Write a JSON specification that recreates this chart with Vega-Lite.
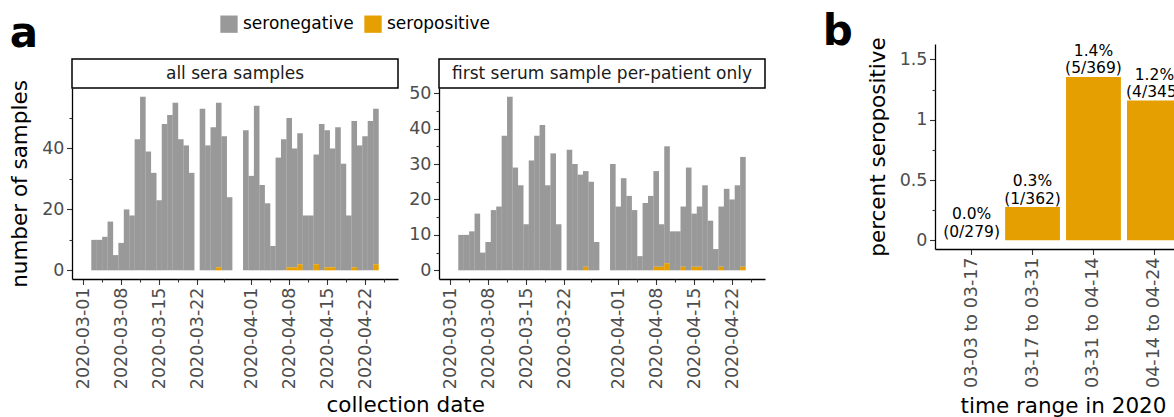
{
  "$schema": "https://vega.github.io/schema/vega-lite/v6.json",
  "padding": {"left": 9, "top": 10, "right": 0, "bottom": 0},
  "config": {
    "font": "DejaVu Sans",
    "view": {"stroke": null},
    "axis": {
      "domainColor": "black", "domainWidth": 1.3,
      "tickColor": "#333333", "tickWidth": 1.1, "tickSize": 5.5,
      "labelColor": "#4d4d4d", "labelFontSize": 17.5, "labelFont": "DejaVu Sans", "labelPadding": 2.5,
      "titleColor": "black", "titleFontSize": 21.5, "titleFontWeight": "normal", "titleFont": "DejaVu Sans",
      "grid": false, "labelFlush": false, "labelOverlap": false
    },
    "axisY": {"titlePadding": 10},
    "axisX": {"titlePadding": 8},
    "legend": {
      "orient": "none", "legendX": 148, "legendY": -29, "direction": "horizontal",
      "title": null, "symbolType": "square", "symbolSize": 300, "symbolStrokeWidth": 0,
      "labelFontSize": 17, "labelColor": "black", "columnPadding": 10, "labelOffset": 5
    }
  },
  "datasets": {
    "daily": [
      {"panel":"all","date":"2020-03-03","seronegative":10,"seropositive":0},
      {"panel":"all","date":"2020-03-04","seronegative":10,"seropositive":0},
      {"panel":"all","date":"2020-03-05","seronegative":11,"seropositive":0},
      {"panel":"all","date":"2020-03-06","seronegative":16,"seropositive":0},
      {"panel":"all","date":"2020-03-07","seronegative":5,"seropositive":0},
      {"panel":"all","date":"2020-03-08","seronegative":9,"seropositive":0},
      {"panel":"all","date":"2020-03-09","seronegative":20,"seropositive":0},
      {"panel":"all","date":"2020-03-10","seronegative":18,"seropositive":0},
      {"panel":"all","date":"2020-03-11","seronegative":43,"seropositive":0},
      {"panel":"all","date":"2020-03-12","seronegative":57,"seropositive":0},
      {"panel":"all","date":"2020-03-13","seronegative":39,"seropositive":0},
      {"panel":"all","date":"2020-03-14","seronegative":32,"seropositive":0},
      {"panel":"all","date":"2020-03-15","seronegative":23,"seropositive":0},
      {"panel":"all","date":"2020-03-16","seronegative":48,"seropositive":0},
      {"panel":"all","date":"2020-03-17","seronegative":51,"seropositive":0},
      {"panel":"all","date":"2020-03-18","seronegative":55,"seropositive":0},
      {"panel":"all","date":"2020-03-19","seronegative":43,"seropositive":0},
      {"panel":"all","date":"2020-03-20","seronegative":41,"seropositive":0},
      {"panel":"all","date":"2020-03-21","seronegative":32,"seropositive":0},
      {"panel":"all","date":"2020-03-23","seronegative":53,"seropositive":0},
      {"panel":"all","date":"2020-03-24","seronegative":41,"seropositive":0},
      {"panel":"all","date":"2020-03-25","seronegative":47,"seropositive":0},
      {"panel":"all","date":"2020-03-26","seronegative":54,"seropositive":1},
      {"panel":"all","date":"2020-03-27","seronegative":44,"seropositive":0},
      {"panel":"all","date":"2020-03-28","seronegative":24,"seropositive":0},
      {"panel":"all","date":"2020-03-31","seronegative":46,"seropositive":0},
      {"panel":"all","date":"2020-04-01","seronegative":31,"seropositive":0},
      {"panel":"all","date":"2020-04-02","seronegative":54,"seropositive":0},
      {"panel":"all","date":"2020-04-03","seronegative":28,"seropositive":0},
      {"panel":"all","date":"2020-04-04","seronegative":22,"seropositive":0},
      {"panel":"all","date":"2020-04-05","seronegative":8,"seropositive":0},
      {"panel":"all","date":"2020-04-06","seronegative":37,"seropositive":0},
      {"panel":"all","date":"2020-04-07","seronegative":43,"seropositive":0},
      {"panel":"all","date":"2020-04-08","seronegative":49,"seropositive":1},
      {"panel":"all","date":"2020-04-09","seronegative":39,"seropositive":1},
      {"panel":"all","date":"2020-04-10","seronegative":43,"seropositive":2},
      {"panel":"all","date":"2020-04-11","seronegative":18,"seropositive":0},
      {"panel":"all","date":"2020-04-12","seronegative":18,"seropositive":0},
      {"panel":"all","date":"2020-04-13","seronegative":36,"seropositive":2},
      {"panel":"all","date":"2020-04-14","seronegative":48,"seropositive":0},
      {"panel":"all","date":"2020-04-15","seronegative":45,"seropositive":1},
      {"panel":"all","date":"2020-04-16","seronegative":39,"seropositive":1},
      {"panel":"all","date":"2020-04-17","seronegative":47,"seropositive":0},
      {"panel":"all","date":"2020-04-18","seronegative":35,"seropositive":0},
      {"panel":"all","date":"2020-04-19","seronegative":18,"seropositive":0},
      {"panel":"all","date":"2020-04-20","seronegative":48,"seropositive":1},
      {"panel":"all","date":"2020-04-21","seronegative":41,"seropositive":0},
      {"panel":"all","date":"2020-04-22","seronegative":44,"seropositive":0},
      {"panel":"all","date":"2020-04-23","seronegative":49,"seropositive":0},
      {"panel":"all","date":"2020-04-24","seronegative":51,"seropositive":2},
      {"panel":"first","date":"2020-03-03","seronegative":10,"seropositive":0},
      {"panel":"first","date":"2020-03-04","seronegative":10,"seropositive":0},
      {"panel":"first","date":"2020-03-05","seronegative":11,"seropositive":0},
      {"panel":"first","date":"2020-03-06","seronegative":16,"seropositive":0},
      {"panel":"first","date":"2020-03-07","seronegative":5,"seropositive":0},
      {"panel":"first","date":"2020-03-08","seronegative":8,"seropositive":0},
      {"panel":"first","date":"2020-03-09","seronegative":17,"seropositive":0},
      {"panel":"first","date":"2020-03-10","seronegative":18,"seropositive":0},
      {"panel":"first","date":"2020-03-11","seronegative":38,"seropositive":0},
      {"panel":"first","date":"2020-03-12","seronegative":49,"seropositive":0},
      {"panel":"first","date":"2020-03-13","seronegative":29,"seropositive":0},
      {"panel":"first","date":"2020-03-14","seronegative":24,"seropositive":0},
      {"panel":"first","date":"2020-03-15","seronegative":13,"seropositive":0},
      {"panel":"first","date":"2020-03-16","seronegative":31,"seropositive":0},
      {"panel":"first","date":"2020-03-17","seronegative":38,"seropositive":0},
      {"panel":"first","date":"2020-03-18","seronegative":41,"seropositive":0},
      {"panel":"first","date":"2020-03-19","seronegative":24,"seropositive":0},
      {"panel":"first","date":"2020-03-20","seronegative":33,"seropositive":0},
      {"panel":"first","date":"2020-03-21","seronegative":13,"seropositive":0},
      {"panel":"first","date":"2020-03-23","seronegative":34,"seropositive":0},
      {"panel":"first","date":"2020-03-24","seronegative":30,"seropositive":0},
      {"panel":"first","date":"2020-03-25","seronegative":27,"seropositive":0},
      {"panel":"first","date":"2020-03-26","seronegative":27,"seropositive":1},
      {"panel":"first","date":"2020-03-27","seronegative":25,"seropositive":0},
      {"panel":"first","date":"2020-03-28","seronegative":8,"seropositive":0},
      {"panel":"first","date":"2020-03-31","seronegative":30,"seropositive":0},
      {"panel":"first","date":"2020-04-01","seronegative":18,"seropositive":0},
      {"panel":"first","date":"2020-04-02","seronegative":26,"seropositive":0},
      {"panel":"first","date":"2020-04-03","seronegative":21,"seropositive":0},
      {"panel":"first","date":"2020-04-04","seronegative":17,"seropositive":0},
      {"panel":"first","date":"2020-04-05","seronegative":4,"seropositive":0},
      {"panel":"first","date":"2020-04-06","seronegative":19,"seropositive":0},
      {"panel":"first","date":"2020-04-07","seronegative":21,"seropositive":0},
      {"panel":"first","date":"2020-04-08","seronegative":27,"seropositive":1},
      {"panel":"first","date":"2020-04-09","seronegative":12,"seropositive":1},
      {"panel":"first","date":"2020-04-10","seronegative":33,"seropositive":2},
      {"panel":"first","date":"2020-04-11","seronegative":11,"seropositive":0},
      {"panel":"first","date":"2020-04-12","seronegative":11,"seropositive":0},
      {"panel":"first","date":"2020-04-13","seronegative":17,"seropositive":1},
      {"panel":"first","date":"2020-04-14","seronegative":29,"seropositive":0},
      {"panel":"first","date":"2020-04-15","seronegative":15,"seropositive":1},
      {"panel":"first","date":"2020-04-16","seronegative":17,"seropositive":1},
      {"panel":"first","date":"2020-04-17","seronegative":24,"seropositive":0},
      {"panel":"first","date":"2020-04-18","seronegative":14,"seropositive":0},
      {"panel":"first","date":"2020-04-19","seronegative":6,"seropositive":0},
      {"panel":"first","date":"2020-04-20","seronegative":17,"seropositive":1},
      {"panel":"first","date":"2020-04-21","seronegative":23,"seropositive":0},
      {"panel":"first","date":"2020-04-22","seronegative":20,"seropositive":0},
      {"panel":"first","date":"2020-04-23","seronegative":24,"seropositive":0},
      {"panel":"first","date":"2020-04-24","seronegative":31,"seropositive":1}
    ],
    "ranges": [
      {"range":"03-03 to 03-17","pct":0,"label":"0.0%\n(0/279)"},
      {"range":"03-17 to 03-31","pct":0.276,"label":"0.3%\n(1/362)"},
      {"range":"03-31 to 04-14","pct":1.355,"label":"1.4%\n(5/369)"},
      {"range":"04-14 to 04-24","pct":1.159,"label":"1.2%\n(4/345)"}
    ]
  },
  "resolve": {"scale": {"color": "shared"}, "legend": {"color": "shared"}},
  "spacing": 56,
  "hconcat": [
    {
      "title": {"text": "a", "anchor": "start", "fontSize": 42, "fontWeight": "bold", "offset": -12, "frame": "bounds", "color": "black"},
      "resolve": {"scale": {"color": "shared"}, "legend": {"color": "shared"}},
      "vconcat": [
        {
          "title": {"text": "collection date", "orient": "bottom", "anchor": "middle", "fontSize": 21.5, "fontWeight": "normal", "color": "black", "offset": 6, "dx": 18, "frame": "bounds"},
          "resolve": {"scale": {"color": "shared"}, "legend": {"color": "shared"}},
          "spacing": 9,
          "hconcat": [
            {
              "bounds": "flush",
              "spacing": 0,
              "resolve": {"scale": {"color": "shared"}, "legend": {"color": "shared"}},
              "vconcat": [
                {
                  "width": 326, "height": 15,
                  "data": {"values": [{"k": 1}]},
                  "mark": {"type": "point", "opacity": 0}
                },
                {
                  "width": 326, "height": 29,
                  "view": {"stroke": "black", "strokeWidth": 1.5},
                  "data": {"values": [{"label": "all sera samples"}]},
                  "mark": {"type": "text", "fontSize": 17, "color": "#1a1a1a"},
                  "encoding": {"text": {"field": "label"}}
                },
                {
                  "width": 326, "height": 191,
                  "data": {"name": "daily"},
                  "transform": [
                    {"filter": "datum.panel === 'all'"},
                    {"fold": ["seronegative", "seropositive"], "as": ["status", "n"]}
                  ],
                  "layer": [
                    {
                      "mark": {"type": "bar", "size": 5.6},
                      "encoding": {
                        "x": {"field": "date", "type": "temporal",
                          "scale": {"type": "utc", "domain": [{"year":2020,"month":2,"date":28,"hours":20,"minutes":24,"utc":true},{"year":2020,"month":4,"date":27,"hours":3,"minutes":36,"utc":true}]},
                          "axis": {"orient": "bottom", "labelExpr": "utcFormat(datum.value, '%Y-%m-%d')", "labelAngle": -90, "title": null,
                            "values": [{"year":2020,"month":3,"date":1,"utc":true},{"year":2020,"month":3,"date":8,"utc":true},{"year":2020,"month":3,"date":15,"utc":true},{"year":2020,"month":3,"date":22,"utc":true},{"year":2020,"month":4,"date":1,"utc":true},{"year":2020,"month":4,"date":8,"utc":true},{"year":2020,"month":4,"date":15,"utc":true},{"year":2020,"month":4,"date":22,"utc":true}]}},
                        "y": {"field": "n", "type": "quantitative", "stack": "zero",
                          "scale": {"domain": [-2.85, 59.85], "nice": false, "zero": false},
                          "axis": {"orient": "left", "values": [0, 20, 40], "title": "number of samples"}},
                        "color": {"field": "status", "type": "nominal",
                          "scale": {"domain": ["seronegative", "seropositive"], "range": ["#999999", "#E69F00"]}},
                        "order": {"field": "status", "sort": "descending"}
                      }
                    },
                    {
                      "mark": {"type": "point", "opacity": 0},
                      "encoding": {
                        "x": {"field": "date", "type": "temporal",
                          "axis": {"orient": "bottom", "labels": false, "domain": false, "tickSize": 3, "title": null,
                            "values": [{"year":2020,"month":3,"date":4,"hours":12,"utc":true},{"year":2020,"month":3,"date":11,"hours":12,"utc":true},{"year":2020,"month":3,"date":18,"hours":12,"utc":true},{"year":2020,"month":3,"date":27,"utc":true},{"year":2020,"month":4,"date":4,"hours":12,"utc":true},{"year":2020,"month":4,"date":11,"hours":12,"utc":true},{"year":2020,"month":4,"date":18,"hours":12,"utc":true},{"year":2020,"month":4,"date":25,"hours":12,"utc":true}]}},
                        "y": {"field": "n", "type": "quantitative",
                          "axis": {"orient": "left", "labels": false, "domain": false, "tickSize": 3, "title": null, "values": [10, 30, 50]}}
                      }
                    }
                  ],
                  "resolve": {"axis": {"x": "independent", "y": "independent"}}
                }
              ]
            },
            {
              "bounds": "flush",
              "spacing": 0,
              "resolve": {"scale": {"color": "shared"}, "legend": {"color": "shared"}},
              "vconcat": [
                {
                  "width": 326, "height": 15,
                  "data": {"values": [{"k": 1}]},
                  "mark": {"type": "point", "opacity": 0}
                },
                {
                  "width": 326, "height": 29,
                  "view": {"stroke": "black", "strokeWidth": 1.5},
                  "data": {"values": [{"label": "first serum sample per-patient only"}]},
                  "mark": {"type": "text", "fontSize": 17, "color": "#1a1a1a"},
                  "encoding": {"text": {"field": "label"}}
                },
                {
                  "width": 326, "height": 191,
                  "data": {"name": "daily"},
                  "transform": [
                    {"filter": "datum.panel === 'first'"},
                    {"fold": ["seronegative", "seropositive"], "as": ["status", "n"]}
                  ],
                  "layer": [
                    {
                      "mark": {"type": "bar", "size": 5.6},
                      "encoding": {
                        "x": {"field": "date", "type": "temporal",
                          "scale": {"type": "utc", "domain": [{"year":2020,"month":2,"date":28,"hours":20,"minutes":24,"utc":true},{"year":2020,"month":4,"date":27,"hours":3,"minutes":36,"utc":true}]},
                          "axis": {"orient": "bottom", "labelExpr": "utcFormat(datum.value, '%Y-%m-%d')", "labelAngle": -90, "title": null,
                            "values": [{"year":2020,"month":3,"date":1,"utc":true},{"year":2020,"month":3,"date":8,"utc":true},{"year":2020,"month":3,"date":15,"utc":true},{"year":2020,"month":3,"date":22,"utc":true},{"year":2020,"month":4,"date":1,"utc":true},{"year":2020,"month":4,"date":8,"utc":true},{"year":2020,"month":4,"date":15,"utc":true},{"year":2020,"month":4,"date":22,"utc":true}]}},
                        "y": {"field": "n", "type": "quantitative", "stack": "zero",
                          "scale": {"domain": [-2.45, 51.45], "nice": false, "zero": false},
                          "axis": {"orient": "left", "values": [0, 10, 20, 30, 40, 50], "title": null}},
                        "color": {"field": "status", "type": "nominal",
                          "scale": {"domain": ["seronegative", "seropositive"], "range": ["#999999", "#E69F00"]}},
                        "order": {"field": "status", "sort": "descending"}
                      }
                    },
                    {
                      "mark": {"type": "point", "opacity": 0},
                      "encoding": {
                        "x": {"field": "date", "type": "temporal",
                          "axis": {"orient": "bottom", "labels": false, "domain": false, "tickSize": 3, "title": null,
                            "values": [{"year":2020,"month":3,"date":4,"hours":12,"utc":true},{"year":2020,"month":3,"date":11,"hours":12,"utc":true},{"year":2020,"month":3,"date":18,"hours":12,"utc":true},{"year":2020,"month":3,"date":27,"utc":true},{"year":2020,"month":4,"date":4,"hours":12,"utc":true},{"year":2020,"month":4,"date":11,"hours":12,"utc":true},{"year":2020,"month":4,"date":18,"hours":12,"utc":true},{"year":2020,"month":4,"date":25,"hours":12,"utc":true}]}},
                        "y": {"field": "n", "type": "quantitative",
                          "axis": {"orient": "left", "labels": false, "domain": false, "tickSize": 3, "title": null, "values": [5, 15, 25, 35, 45]}}
                      }
                    }
                  ],
                  "resolve": {"axis": {"x": "independent", "y": "independent"}}
                }
              ]
            }
          ]
        }
      ]
    },
    {
      "width": 256, "height": 205,
      "title": {"text": "b", "anchor": "start", "fontSize": 42, "fontWeight": "bold", "offset": -17, "dx": -44.5, "frame": "bounds", "color": "black"},
      "data": {"name": "ranges"},
      "layer": [
        {
          "mark": {"type": "bar", "color": "#E69F00"},
          "encoding": {
            "x": {"field": "range", "type": "nominal", "sort": null,
              "scale": {"paddingInner": 0.1, "paddingOuter": 0.15},
              "axis": {"orient": "bottom", "labelAngle": -90, "title": "time range in 2020"}},
            "y": {"field": "pct", "type": "quantitative",
              "scale": {"domain": [-0.072, 1.628], "nice": false, "zero": false},
              "axis": {"orient": "left", "values": [0, 0.5, 1, 1.5], "labelExpr": "format(datum.value, '~g')", "title": "percent seropositive"}}
          }
        },
        {
          "mark": {"type": "text", "lineBreak": "\n", "baseline": "bottom", "dy": -18, "fontSize": 15.5, "color": "black", "lineHeight": 17.5},
          "encoding": {
            "x": {"field": "range", "type": "nominal", "sort": null},
            "y": {"field": "pct", "type": "quantitative", "axis": null},
            "text": {"field": "label"}
          }
        },
        {
          "mark": {"type": "point", "opacity": 0},
          "encoding": {
            "y": {"field": "pct", "type": "quantitative",
              "axis": {"orient": "left", "labels": false, "domain": false, "tickSize": 3, "title": null, "values": [0.25, 0.75, 1.25]}}
          }
        }
      ],
      "resolve": {"axis": {"y": "independent"}}
    }
  ]
}
